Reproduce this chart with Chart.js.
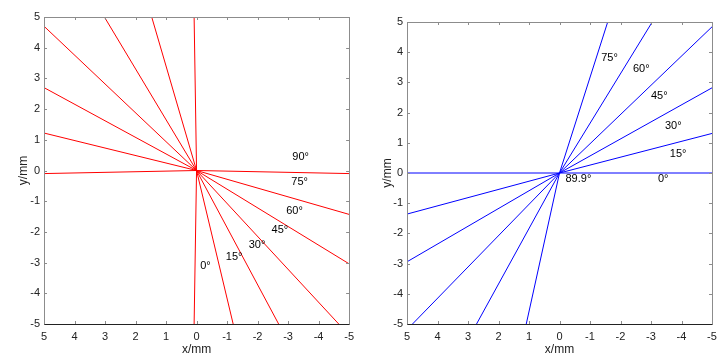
<!DOCTYPE html>
<html>
<head>
<meta charset="utf-8">
<title>angle lines</title>
<script src="https://cdn.jsdelivr.net/npm/chart.js@4.4.1/dist/chart.umd.min.js"></script>
<style>
  body { margin: 0; background: #fff; }
  #wrap { position: relative; width: 723px; height: 360px; }
  #leftBox { position: absolute; left: 0; top: 0; width: 360px; height: 360px; }
  #rightBox { position: absolute; left: 360px; top: 0; width: 363px; height: 360px; }
</style>
</head>
<body>
<div id="wrap">
  <div id="leftBox"><canvas id="leftChart" width="360" height="360"></canvas></div>
  <div id="rightBox"><canvas id="rightChart" width="363" height="360"></canvas></div>
</div>

<script type="text/javascript">
// tick values for both axes
const TICKS = [5, 4, 3, 2, 1, 0, -1, -2, -3, -4, -5];

// left panel (red): each line = edge point, origin, opposite edge point
const RED_0  = [{x: 0.08, y: 5}, {x: 0, y: 0}, {x: 0.08, y: -5}];
const RED_15 = [{x: 1.47, y: 5}, {x: 0, y: 0}, {x: -1.2, y: -5}];
const RED_30 = [{x: 3.02, y: 5}, {x: 0, y: 0}, {x: -2.69, y: -5}];
const RED_45 = [{x: 5, y: 4.7}, {x: 0, y: 0}, {x: -4.66, y: -5}];
const RED_60 = [{x: 5, y: 2.7}, {x: 0, y: 0}, {x: -5, y: -3.04}];
const RED_75 = [{x: 5, y: 1.22}, {x: 0, y: 0}, {x: -5, y: -1.43}];
const RED_90 = [{x: 5, y: -0.1}, {x: 0, y: 0}, {x: -5, y: -0.1}];
const RED_LINES = [RED_0, RED_15, RED_30, RED_45, RED_60, RED_75, RED_90];

const RED_LABELS = ['0°', '15°', '30°', '45°', '60°', '75°', '90°'];
const RED_LABEL_X = [-0.29, -1.23, -1.98, -2.73, -3.21, -3.38, -3.41];
const RED_LABEL_Y = [-3.11, -2.82, -2.43, -1.94, -1.33, -0.36, 0.45];

// right panel (blue)
const BLUE_0  = [{x: 5, y: 0}, {x: 0, y: 0}, {x: -5, y: 0}];
const BLUE_15 = [{x: 5, y: -1.36}, {x: 0, y: 0}, {x: -5, y: 1.31}];
const BLUE_30 = [{x: 5, y: -2.94}, {x: 0, y: 0}, {x: -5, y: 2.82}];
const BLUE_45 = [{x: 4.82, y: -5}, {x: 0, y: 0}, {x: -5, y: 4.84}];
const BLUE_60 = [{x: 2.72, y: -5}, {x: 0, y: 0}, {x: -3.04, y: 5}];
const BLUE_75 = [{x: 1.09, y: -5}, {x: 0, y: 0}, {x: -1.58, y: 5}];
const BLUE_LINES = [BLUE_0, BLUE_15, BLUE_30, BLUE_45, BLUE_60, BLUE_75];

const BLUE_LABELS = ['89.9°', '0°', '15°', '30°', '45°', '60°', '75°'];
const BLUE_LABEL_X = [-0.62, -3.4, -3.89, -3.73, -3.27, -2.68, -1.64];
const BLUE_LABEL_Y = [-0.2, -0.2, 0.63, 1.56, 2.55, 3.44, 3.81];

const FONT = 'Liberation Sans, Arial, sans-serif';

// box round the plot area plus small inward ticks on every side
const boxPlugin = {
  id: 'boxTicks',
  afterDraw(chart) {
    const ctx = chart.ctx;
    const a = chart.chartArea;
    const xs = chart.scales.x, ys = chart.scales.y;
    ctx.save();
    ctx.lineWidth = 1;
    ctx.strokeStyle = '#8c8c8c';
    TICKS.forEach(v => {
      const px = Math.round(xs.getPixelForValue(v)) + 0.5;
      const py = Math.round(ys.getPixelForValue(v)) + 0.5;
      ctx.beginPath();
      ctx.moveTo(px, a.bottom); ctx.lineTo(px, a.bottom - 3);
      ctx.moveTo(px, a.top); ctx.lineTo(px, a.top + 3);
      ctx.moveTo(a.left, py); ctx.lineTo(a.left + 3, py);
      ctx.moveTo(a.right, py); ctx.lineTo(a.right - 3, py);
      ctx.stroke();
    });
    const l = Math.round(a.left) + 0.5, r = Math.round(a.right) + 0.5;
    const t = Math.round(a.top) + 0.5, b = Math.round(a.bottom) + 0.5;
    ctx.beginPath();
    ctx.moveTo(l, b); ctx.lineTo(l, t); ctx.lineTo(r, t); ctx.lineTo(r, b);
    ctx.stroke();
    ctx.strokeStyle = '#222';
    ctx.beginPath();
    ctx.moveTo(l, b); ctx.lineTo(r, b);
    ctx.stroke();
    ctx.restore();
  }
};

// angle labels placed in data coordinates
const angleLabelPlugin = {
  id: 'angleLabels',
  afterDatasetsDraw(chart, args, opts) {
    const ctx = chart.ctx;
    const xs = chart.scales.x, ys = chart.scales.y;
    ctx.save();
    ctx.font = '11px ' + FONT;
    ctx.fillStyle = '#000';
    ctx.textAlign = 'center';
    ctx.textBaseline = 'middle';
    opts.labels.forEach((txt, i) => {
      ctx.fillText(txt, xs.getPixelForValue(opts.xs[i]), ys.getPixelForValue(opts.ys[i]));
    });
    ctx.restore();
  }
};

function makeChart(id, lines, color, labels, lx, ly, yWidth, pad, titlePad) {
  const datasets = lines.map(pts => ({
    data: pts,
    showLine: true,
    borderColor: color,
    borderWidth: 1,
    pointRadius: 0,
    fill: false,
    tension: 0
  }));
  return new Chart(document.getElementById(id), {
    type: 'scatter',
    data: { datasets: datasets },
    options: {
      responsive: false,
      animation: false,
      layout: { padding: pad },
      plugins: {
        legend: { display: false },
        tooltip: { enabled: false },
        angleLabels: { labels: labels, xs: lx, ys: ly }
      },
      scales: {
        x: {
          type: 'linear',
          min: -5, max: 5,
          reverse: true,
          grid: { display: false, drawTicks: false },
          border: { display: false },
          afterBuildTicks: s => { s.ticks = TICKS.map(v => ({ value: v })); },
          afterFit: s => { s.height = 36; },
          ticks: { padding: 6, color: '#222', font: { family: FONT, size: 11 }, maxRotation: 0 },
          title: { display: true, text: 'x/mm', color: '#222', font: { family: FONT, size: 12 }, padding: { top: 0, bottom: 3 } }
        },
        y: {
          type: 'linear',
          min: -5, max: 5,
          grid: { display: false, drawTicks: false },
          border: { display: false },
          afterBuildTicks: s => { s.ticks = TICKS.map(v => ({ value: v })); },
          afterFit: s => { s.width = yWidth; },
          ticks: { padding: 4, color: '#222', font: { family: FONT, size: 11 } },
          title: { display: true, text: 'y/mm', color: '#222', font: { family: FONT, size: 12 }, padding: { top: titlePad, bottom: 0 } }
        }
      }
    },
    plugins: [boxPlugin, angleLabelPlugin]
  });
}

makeChart('leftChart', RED_LINES, 'rgb(255,0,0)', RED_LABELS, RED_LABEL_X, RED_LABEL_Y,
  44, { top: 17, right: 8, left: 0, bottom: 0 }, 16);
makeChart('rightChart', BLUE_LINES, 'rgb(0,0,255)', BLUE_LABELS, BLUE_LABEL_X, BLUE_LABEL_Y,
  47, { top: 22, right: 11, left: 0, bottom: 0 }, 20);
</script>
</body>
</html>
